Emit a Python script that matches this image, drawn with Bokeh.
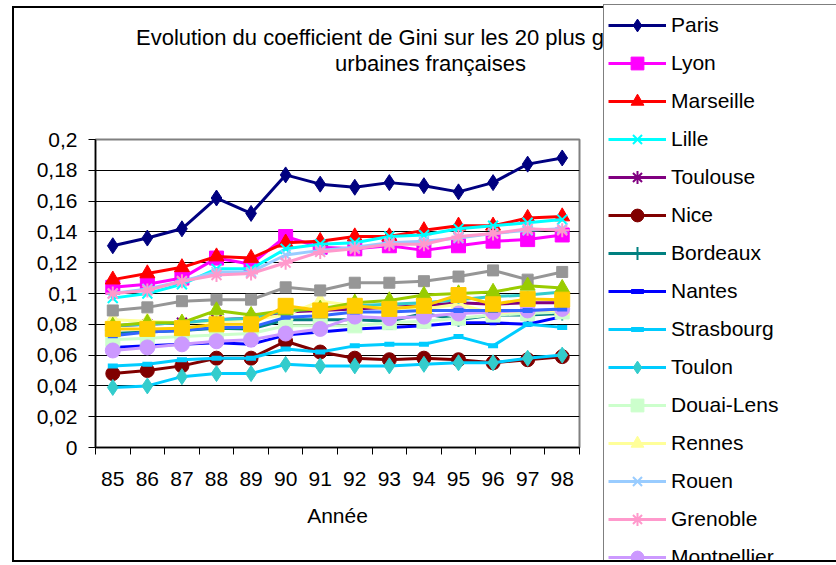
from bokeh.plotting import figure
from bokeh.layouts import row
from bokeh.models import (FixedTicker, CustomJSTickFormatter, Legend, LegendItem,
                          Label, Range1d)
from bokeh.embed import file_html
from bokeh.resources import INLINE

years = ["85", "86", "87", "88", "89", "90", "91", "92", "93", "94", "95", "96", "97", "98"]

paris = [0.131, 0.136, 0.142, 0.162, 0.152, 0.177, 0.171, 0.169, 0.172, 0.170, 0.166, 0.172, 0.184, 0.188]
lyon = [0.104, 0.106, 0.110, 0.123, 0.119, 0.137, 0.130, 0.129, 0.131, 0.128, 0.131, 0.134, 0.135, 0.138]
marseille = [0.109, 0.113, 0.117, 0.124, 0.123, 0.133, 0.134, 0.137, 0.137, 0.141, 0.144, 0.144, 0.149, 0.150]
lille = [0.097, 0.100, 0.106, 0.116, 0.116, 0.129, 0.132, 0.133, 0.137, 0.138, 0.142, 0.144, 0.146, 0.148]
toulouse = [0.079, 0.080, 0.081, 0.083, 0.084, 0.088, 0.089, 0.090, 0.091, 0.092, 0.094, 0.093, 0.094, 0.094]
nice = [0.048, 0.050, 0.053, 0.058, 0.058, 0.069, 0.062, 0.058, 0.057, 0.058, 0.057, 0.055, 0.057, 0.059]
bordeaux = [0.074, 0.075, 0.076, 0.0775, 0.077, 0.083, 0.083, 0.083, 0.082, 0.087, 0.083, 0.086, 0.086, 0.087]
nantes = [0.065, 0.066, 0.067, 0.068, 0.067, 0.073, 0.075, 0.077, 0.078, 0.079, 0.081, 0.081, 0.080, 0.085]
strasbourg = [0.053, 0.054, 0.057, 0.058, 0.058, 0.064, 0.062, 0.066, 0.067, 0.067, 0.072, 0.066, 0.080, 0.078]
toulon = [0.039, 0.040, 0.046, 0.048, 0.048, 0.054, 0.053, 0.053, 0.053, 0.054, 0.055, 0.055, 0.058, 0.060]
douai_lens = [0.070, 0.071, 0.072, 0.073, 0.074, 0.079, 0.079, 0.079, 0.081, 0.082, 0.084, 0.086, 0.087, 0.088]
rennes = [0.083, 0.082, 0.081, 0.082, 0.083, 0.086, 0.095, 0.092, 0.091, 0.090, 0.093, 0.087, 0.089, 0.089]
rouen = [0.100, 0.103, 0.108, 0.114, 0.114, 0.125, 0.128, 0.130, 0.133, 0.134, 0.136, 0.139, 0.141, 0.142]
grenoble = [0.100, 0.102, 0.108, 0.112, 0.113, 0.120, 0.127, 0.129, 0.132, 0.132, 0.137, 0.139, 0.142, 0.141]
montpellier = [0.063, 0.065, 0.067, 0.069, 0.070, 0.074, 0.077, 0.085, 0.084, 0.085, 0.087, 0.088, 0.089, 0.090]
metz = [0.079, 0.080, 0.081, 0.083, 0.084, 0.089, 0.090, 0.092, 0.093, 0.094, 0.096, 0.098, 0.099, 0.101]
nancy = [0.0725, 0.075, 0.076, 0.078, 0.078, 0.0845, 0.0855, 0.088, 0.088, 0.089, 0.089, 0.089, 0.089, 0.090]
clermont = [0.089, 0.091, 0.095, 0.096, 0.096, 0.104, 0.102, 0.107, 0.107, 0.108, 0.111, 0.115, 0.109, 0.114]
valenciennes = [0.079, 0.081, 0.081, 0.089, 0.086, 0.089, 0.090, 0.094, 0.0955, 0.099, 0.100, 0.101, 0.105, 0.1035]
tours = [0.077, 0.077, 0.0775, 0.080, 0.080, 0.092, 0.089, 0.092, 0.090, 0.092, 0.099, 0.093, 0.0965, 0.096]

y_ticks = [0.0, 0.02, 0.04, 0.06, 0.08, 0.1, 0.12, 0.14, 0.16, 0.18, 0.2]

title_line1 = "Evolution du coefficient de Gini sur les 20 plus grandes aires"
title_line2 = "urbaines françaises"
x_title = "Année"

# name, values, line color, marker, fill color, size
series = [
    ("Paris", paris, "#000080", "diamond", "#000080", 16),
    ("Lyon", lyon, "#FF00FF", "square", "#FF00FF", 14),
    ("Marseille", marseille, "#FF0000", "triangle", "#FF0000", 15),
    ("Lille", lille, "#00FFFF", "x", "#00FFFF", 14),
    ("Toulouse", toulouse, "#800080", "asterisk", "#800080", 14),
    ("Nice", nice, "#800000", "circle", "#800000", 14),
    ("Bordeaux", bordeaux, "#008080", "cross", "#008080", 14),
    ("Nantes", nantes, "#0000FF", "dash", "#0000FF", 7),
    ("Strasbourg", strasbourg, "#00CCFF", "dash", "#00CCFF", 10),
    ("Toulon", toulon, "#00CCFF", "diamond", "#33CCCC", 16),
    ("Douai-Lens", douai_lens, "#CCFFCC", "square", "#CCFFCC", 14),
    ("Rennes", rennes, "#FFFF99", "triangle", "#FFFF99", 15),
    ("Rouen", rouen, "#99CCFF", "x", "#99CCFF", 14),
    ("Grenoble", grenoble, "#FF99CC", "asterisk", "#FF99CC", 14),
    ("Montpellier", montpellier, "#CC99FF", "circle", "#CC99FF", 15),
    ("Metz", metz, "#33CCCC", "cross", "#33CCCC", 8),
    ("Nancy", nancy, "#3366FF", "dash", "#3366FF", 10),
    ("Clermont-Ferrand", clermont, "#969696", "square", "#969696", 11),
    ("Valenciennes", valenciennes, "#99CC00", "triangle", "#99CC00", 15),
    ("Tours", tours, "#FFCC00", "square", "#FFCC00", 15),
]

FONT = "Liberation Sans"
W, H = 836, 565
LEG_X = 603                     # left edge of the legend box
FL, FR, FT, FB = 95, 579, 139, 447

xs = [i + 0.5 for i in range(len(years))]


def add_series(fig, name, vals, lc, mk, fc, sz):
    lr = fig.line(xs, vals, line_color=lc, line_width=3)
    if mk == "dash":
        mr = fig.scatter(xs, vals, marker="dash", size=sz, line_color=fc, line_width=5)
    elif mk in ("x", "asterisk", "cross"):
        mr = fig.scatter(xs, vals, marker=mk, size=sz, line_color=fc, line_width=2)
    else:
        mr = fig.scatter(xs, vals, marker=mk, size=sz, fill_color=fc, line_color=fc)
    return LegendItem(label=name, renderers=[lr, mr])


# ---------------- main chart ----------------
p = figure(width=LEG_X, height=H, output_backend="svg", toolbar_location=None,
           x_range=Range1d(0, len(years)), y_range=Range1d(0, 0.2),
           min_border_left=FL, min_border_right=LEG_X - FR,
           min_border_top=FT, min_border_bottom=H - FB)
p.frame_align = False
p.background_fill_color = "white"
p.border_fill_alpha = 0
p.outline_line_color = "#808080"
p.outline_line_width = 2

p.xaxis.ticker = FixedTicker(ticks=xs, minor_ticks=list(range(len(years) + 1)))
p.xaxis.major_label_overrides = {x: y for x, y in zip(xs, years)}
p.xaxis.major_tick_out = 0
p.xaxis.major_tick_in = 0
p.xaxis.minor_tick_out = 7
p.xaxis.minor_tick_in = 0
p.xaxis.minor_tick_line_color = "black"
p.xaxis.axis_line_color = "black"
p.xaxis.axis_line_width = 1.5
p.xaxis.major_label_text_font = FONT
p.xaxis.major_label_text_font_size = "21px"
p.xaxis.major_label_text_color = "black"
p.xaxis.major_label_standoff = 17
p.xaxis.axis_label = x_title
p.xaxis.axis_label_text_font = FONT
p.xaxis.axis_label_text_font_size = "21px"
p.xaxis.axis_label_text_font_style = "normal"
p.xaxis.axis_label_text_color = "black"
p.xaxis.axis_label_standoff = 15

p.yaxis.ticker = FixedTicker(ticks=y_ticks, minor_ticks=[])
p.yaxis.formatter = CustomJSTickFormatter(code="""
    let s = tick.toFixed(2).replace(/0+$/, '').replace(/\\.$/, '');
    return s.replace('.', ',');
""")
p.yaxis.major_tick_out = 7
p.yaxis.major_tick_in = 0
p.yaxis.minor_tick_out = 0
p.yaxis.minor_tick_in = 0
p.yaxis.major_tick_line_color = "black"
p.yaxis.axis_line_color = "black"
p.yaxis.axis_line_width = 1.5
p.yaxis.major_label_text_font = FONT
p.yaxis.major_label_text_font_size = "21px"
p.yaxis.major_label_text_color = "black"
p.yaxis.major_label_standoff = 11

p.xgrid.visible = False
p.ygrid.ticker = FixedTicker(ticks=y_ticks)
p.ygrid.grid_line_color = "black"
p.ygrid.grid_line_width = 1

for s in series:
    add_series(p, *s)

cx = 430 - FL
p.add_layout(Label(x=cx, y=FT - 63, x_units="screen", y_units="screen", text=title_line2,
                   text_align="center", text_baseline="middle", text_font=FONT,
                   text_font_size="22px", text_color="black"), "above")
p.add_layout(Label(x=cx, y=FT - 25 - 37, x_units="screen", y_units="screen", text=title_line1,
                   text_align="center", text_baseline="middle", text_font=FONT,
                   text_font_size="22px", text_color="black"), "above")

# ---------------- legend panel (clipped at the chart-area edge) ----------------
LH = 560
q = figure(width=W - LEG_X, height=LH, output_backend="svg", toolbar_location=None,
           x_range=Range1d(-2, -1), y_range=Range1d(-2, -1),
           x_axis_location=None, y_axis_location=None, min_border=0)
q.frame_align = False
q.grid.visible = False
q.outline_line_color = None
q.background_fill_alpha = 0
q.border_fill_alpha = 0
items = [add_series(q, *s) for s in series]

pad, gh, sp = 4, 32, 6
leg_h = 2 * pad + len(items) * gh + (len(items) - 1) * sp
leg_top = 26 - pad - gh // 2
legend = Legend(items=items, location=(0, LH - leg_top - leg_h),
                ncols=1, padding=pad, spacing=sp, glyph_width=58, glyph_height=gh,
                label_height=gh, label_standoff=5, margin=0,
                label_text_font=FONT, label_text_font_size="21px",
                label_text_color="black", border_line_color="black",
                border_line_width=1.5, background_fill_color="white",
                background_fill_alpha=1.0)
q.add_layout(legend)

border_css = ("linear-gradient(#000,#000) 12px 6px / 2px 556px no-repeat, "
              "linear-gradient(#000,#000) 12px 6px / 824px 2px no-repeat, "
              "linear-gradient(#000,#000) 12px 560px / 824px 2px no-repeat, "
              "linear-gradient(#fff,#fff) 0 0 / 100% 100% no-repeat")
layout = row(p, q, spacing=0)
layout.styles = {"background": border_css}

open("out.html", "w").write(file_html(layout, INLINE))
